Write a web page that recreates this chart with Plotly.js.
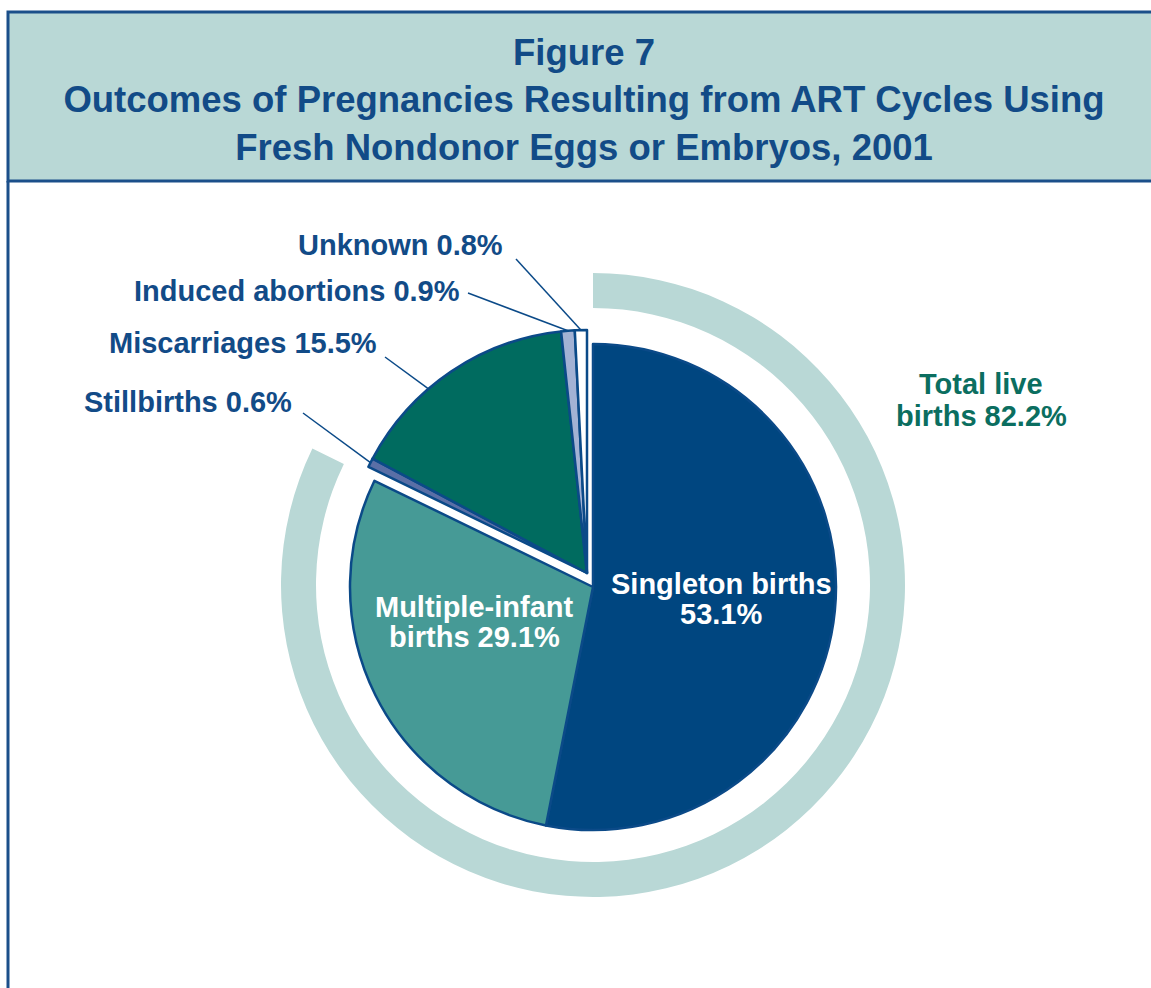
<!DOCTYPE html>
<html><head><meta charset="utf-8">
<script src="https://cdn.plot.ly/plotly-3.0.1.min.js"></script>
<style>html,body{margin:0;padding:0;background:#fff}#chart{width:1151px;height:988px}</style>
</head><body><div id="chart"></div>
<script>
// ---------- data ----------
const titleLines = ['Figure 7', 'Outcomes of Pregnancies Resulting from ART Cycles Using', 'Fresh Nondonor Eggs or Embryos, 2001'];
const liveCategories = ['Singleton births', 'Multiple-infant births'];
const liveValues = [53.1, 29.1];
const otherCategories = ['Stillbirths', 'Miscarriages', 'Induced abortions', 'Unknown'];
const otherValues = [0.6, 15.5, 0.9, 0.8];
const liveTotalCategory = 'Total live births';
const liveTotalValue = 82.2;

// ---------- styles / layout parameters ----------
const W = 1151, H = 988;
const liveColors = ['#004680', '#469a96'];
const otherColors = ['#5a6fa6', '#006b5f', '#a3b2d4', '#ffffff'];
const outline = '#0b4a88';
const ringColor = '#b9d8d6';
const textBlue = '#124b87';
const textGreen = '#0b6e60';
const FONT = 'Liberation Sans, Arial, Helvetica, sans-serif';
const LABEL_SIZE = 29;

const pie = {cx: 593, cy: 587, r: 243};
const groupShift = {dx: -6, dy: -14};
const ring = {cx: 593, cy: 585, r: 312, inner: 277};

// label placements (pixels)
const otherLabelPos = [
  {x: 294, y: 402, lx: 303, ly: 413, frac: 0.5},
  {x: 379, y: 343, lx: 385, ly: 357, frac: 0.38},
  {x: 462, y: 291, lx: 468, ly: 293, frac: 0.5},
  {x: 505, y: 245, lx: 516, ly: 259, frac: 0.5}
];
const liveLabelPos = [
  {x: 721, y1: 584, y2: 614, breakAfter: 2},
  {x: 474, y1: 607, y2: 637, breakAfter: 1}
];
const totalLabelPos = {x: 981, y1: 384, y2: 416, breakAfter: 2};

// ---------- helpers ----------
const px = x => x / W;
const py = y => 1 - y / H;
const sum = a => a.reduce((s, v) => s + v, 0);
function domainFor(c) {
  return {x: [px(c.cx - c.r), px(c.cx + c.r)], y: [py(c.cy + c.r), py(c.cy - c.r)]};
}
function splitLabel(cat, value, breakAfter) {
  const words = cat.split(' ');
  const l1 = words.slice(0, breakAfter).join(' ');
  const rest = words.slice(breakAfter).join(' ');
  const l2 = (rest ? rest + ' ' : '') + value.toFixed(1) + '%';
  return [l1, l2];
}

const liveSum = sum(liveValues);
const otherSum = sum(otherValues);
const total = liveSum + otherSum;
const transparent = 'rgba(0,0,0,0)';

const traces = [
  { // outer ring around live births
    type: 'pie', sort: false, direction: 'clockwise', rotation: 0,
    values: [liveTotalValue, total - liveTotalValue],
    labels: [liveTotalCategory, 'other'],
    marker: {colors: [ringColor, transparent], line: {width: 0}},
    hole: ring.inner / ring.r,
    domain: domainFor(ring), textinfo: 'none', hoverinfo: 'skip', showlegend: false
  },
  { // live birth slices
    type: 'pie', sort: false, direction: 'clockwise', rotation: 0,
    values: liveValues.concat([otherSum]),
    labels: liveCategories.concat(['rest']),
    marker: {colors: liveColors.concat([transparent]),
             line: {color: outline, width: liveValues.map(() => 2.5).concat([0])}},
    domain: domainFor(pie), textinfo: 'none', hoverinfo: 'label+value', showlegend: false
  },
  { // non-live outcome slices (pulled out as group)
    type: 'pie', sort: false, direction: 'clockwise', rotation: 0,
    values: [liveSum].concat(otherValues),
    labels: ['live'].concat(otherCategories),
    marker: {colors: [transparent].concat(otherColors),
             line: {color: outline, width: [0].concat(otherValues.map(() => 2.5))}},
    domain: domainFor({cx: pie.cx + groupShift.dx, cy: pie.cy + groupShift.dy, r: pie.r}),
    textinfo: 'none', hoverinfo: 'label+value', showlegend: false
  }
];

const annotations = [];
const shapes = [];

// header box and frame
shapes.push({type: 'rect', xref: 'paper', yref: 'paper', x0: px(8), x1: 1.05, y0: py(181), y1: py(12),
  fillcolor: ringColor, line: {color: '#1b4f8a', width: 3}, layer: 'below'});
shapes.push({type: 'line', xref: 'paper', yref: 'paper', x0: px(8), x1: px(8), y0: py(181), y1: -0.05,
  line: {color: '#1b4f8a', width: 3}, layer: 'below'});

// outside labels with leader lines to slices
let cum = liveSum;
otherCategories.forEach((cat, i) => {
  const p = otherLabelPos[i];
  const theta = 2 * Math.PI * (cum + p.frac * otherValues[i]) / total;
  const tx = pie.cx + groupShift.dx + pie.r * Math.sin(theta);
  const ty = pie.cy + groupShift.dy - pie.r * Math.cos(theta);
  cum += otherValues[i];
  annotations.push({xref: 'paper', yref: 'paper', x: px(p.x), y: py(p.y), xanchor: 'right', yanchor: 'middle',
    text: cat + ' ' + otherValues[i].toFixed(1) + '%', showarrow: false,
    font: {family: FONT, size: LABEL_SIZE, color: textBlue, weight: 'bold'}});
  shapes.push({type: 'line', xref: 'paper', yref: 'paper', x0: px(p.lx), y0: py(p.ly), x1: px(tx), y1: py(ty),
    line: {color: outline, width: 1.5}});
});

// inside labels
liveCategories.forEach((cat, i) => {
  const p = liveLabelPos[i];
  const lines = splitLabel(cat, liveValues[i], p.breakAfter);
  [p.y1, p.y2].forEach((y, k) => annotations.push({xref: 'paper', yref: 'paper', x: px(p.x), y: py(y),
    xanchor: 'center', yanchor: 'middle', text: lines[k], showarrow: false,
    font: {family: FONT, size: LABEL_SIZE, color: '#ffffff', weight: 'bold'}}));
});

// total live births label
{
  const lines = splitLabel(liveTotalCategory, liveTotalValue, totalLabelPos.breakAfter);
  [totalLabelPos.y1, totalLabelPos.y2].forEach((y, k) => annotations.push({xref: 'paper', yref: 'paper',
    x: px(totalLabelPos.x), y: py(y), xanchor: 'center', yanchor: 'middle', text: lines[k], showarrow: false,
    font: {family: FONT, size: LABEL_SIZE, color: textGreen, weight: 'bold'}}));
}

const layout = {
  width: W, height: H, margin: {l: 0, r: 0, t: 0, b: 0},
  paper_bgcolor: '#ffffff', plot_bgcolor: '#ffffff', showlegend: false,
  title: {text: titleLines.join('<br>'), x: px(584), xanchor: 'center', xref: 'container',
    y: py(65), yanchor: 'middle', yref: 'container',
    font: {family: FONT, size: 36.5, color: textBlue, weight: 'bold'}},
  shapes: shapes, annotations: annotations
};

Plotly.newPlot('chart', traces, layout, {displayModeBar: false, staticPlot: true});
</script></body></html>
